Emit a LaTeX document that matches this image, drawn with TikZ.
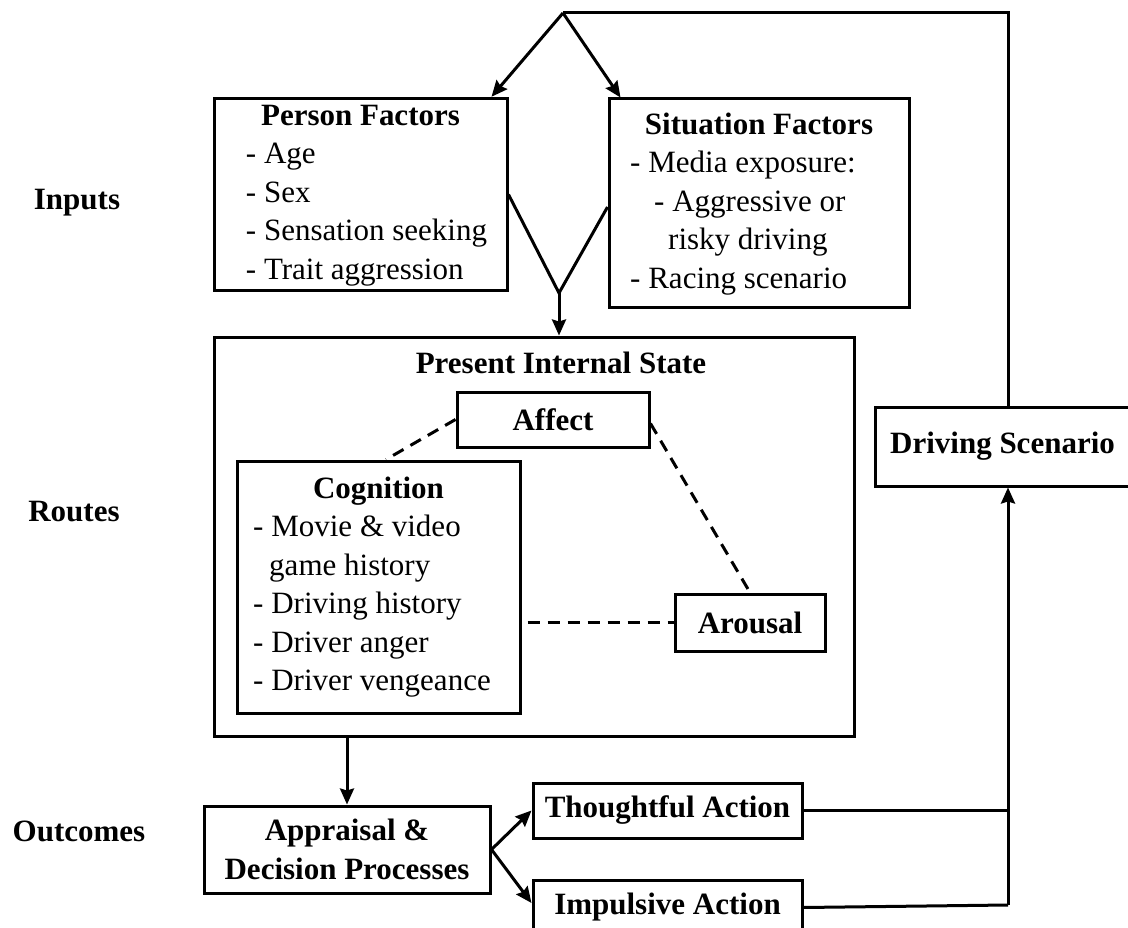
\documentclass[tikz,border=0pt]{standalone}
\usepackage{fontspec}
\setmainfont{Liberation Serif}
\usetikzlibrary{arrows.meta}
\newcommand{\figfont}{\fontsize{31}{38.5}\selectfont}
\begin{document}
\begin{tikzpicture}[x=1pt, y=-1pt, line width=3pt,
        >={Stealth[length=16pt,width=14pt,inset=2pt]},
        font=\figfont,
        box/.style 2 args={draw, inner sep=0pt, minimum width=#1, minimum height=#2},
        head/.style={font=\figfont\bfseries},
        link/.style={dash pattern=on 12pt off 8pt}]
    \useasboundingbox (0,0) rectangle (1128,928);
    \node[head] (inputs) at (77,203) {Inputs};
    \node[head] (routes) at (74,512) {Routes};
    \node[head] (outcomes) at (79,831) {Outcomes};
    \node[box={293pt}{191pt}] (person) at (360.5,194.5) {\begin{tabular}{@{\hspace{12pt}}l@{}}
        \multicolumn{1}{@{}c@{}}{\bfseries Person Factors}\\
        - Age\\ - Sex\\ - Sensation seeking\\ - Trait aggression\end{tabular}};
    \node[box={300pt}{209pt}] (situation) at (759,203.5) {\begin{tabular}{@{}l@{\hspace{32pt}}}
        \multicolumn{1}{@{}c@{}}{\bfseries Situation Factors}\\
        - Media exposure:\\ \hspace*{24pt}- Aggressive or\\ \hspace*{38pt}risky driving\\ - Racing scenario\end{tabular}};
    \node[box={640pt}{399pt}] (state) at (534,536.5) {};
    \node[head] (statetitle) at (561,363) {Present Internal State};
    \node[box={192pt}{55pt}, head] (affect) at (553,419.5) {Affect};
    \node[box={283pt}{252pt}] (cognition) at (378.5,587) {\begin{tabular}{@{}l@{\hspace{13pt}}}
        \multicolumn{1}{@{}c@{}}{\bfseries Cognition}\\
        - Movie \& video\\ \hspace*{16pt}game history\\ - Driving history\\ - Driver anger\\ - Driver vengeance\end{tabular}};
    \node[box={150pt}{57pt}, head] (arousal) at (750,622.5) {Arousal};
    \node[box={255pt}{79pt}, head] (scenario) at (1002.5,446.5) {Driving Scenario};
    \node[box={286pt}{87pt}, head, align=center] (appraisal) at (347,849.5) {Appraisal \&\\ Decision Processes};
    \node[box={269pt}{55pt}, head] (thought) at (667.5,810.5) {Thoughtful Action};
    \node[box={269pt}{55pt}, head] (impulse) at (667.5,907.5) {Impulsive Action};
    \coordinate (apex) at (563,13);
    \coordinate (corner) at (1008,13);
    \coordinate (vtip) at (559,293);
    \coordinate (return) at (1008,905);
    \draw[->] (apex) -- ([xshift=-17pt]person.north east);
    \draw[->] (apex) -- ([xshift=13pt]situation.north west);
    \draw (apex) -- (corner) -- (corner |- scenario.north);
    \draw (person.east) -- (vtip) -- ([yshift=-3.5pt]situation.west);
    \draw[->] (vtip) -- (vtip |- state.north);
    \draw[link] (affect.west) -- ([xshift=7.5pt]cognition.north);
    \draw[link] ([yshift=-4pt]affect.east) -- (arousal.north);
    \draw[link, shorten <=6pt] (cognition.east |- arousal.west) -- (arousal.west);
    \draw[->] (state.south -| appraisal.north) -- (appraisal.north);
    \draw[->] (appraisal.east) -- (thought.west);
    \draw[->] (appraisal.east) -- ([yshift=4.5pt]impulse.west);
    \draw (thought.east) -- (thought.east -| return);
    \draw (impulse.east) -- (return);
    \draw[->] (return) -- (return |- scenario.south);
\end{tikzpicture}
\end{document}
